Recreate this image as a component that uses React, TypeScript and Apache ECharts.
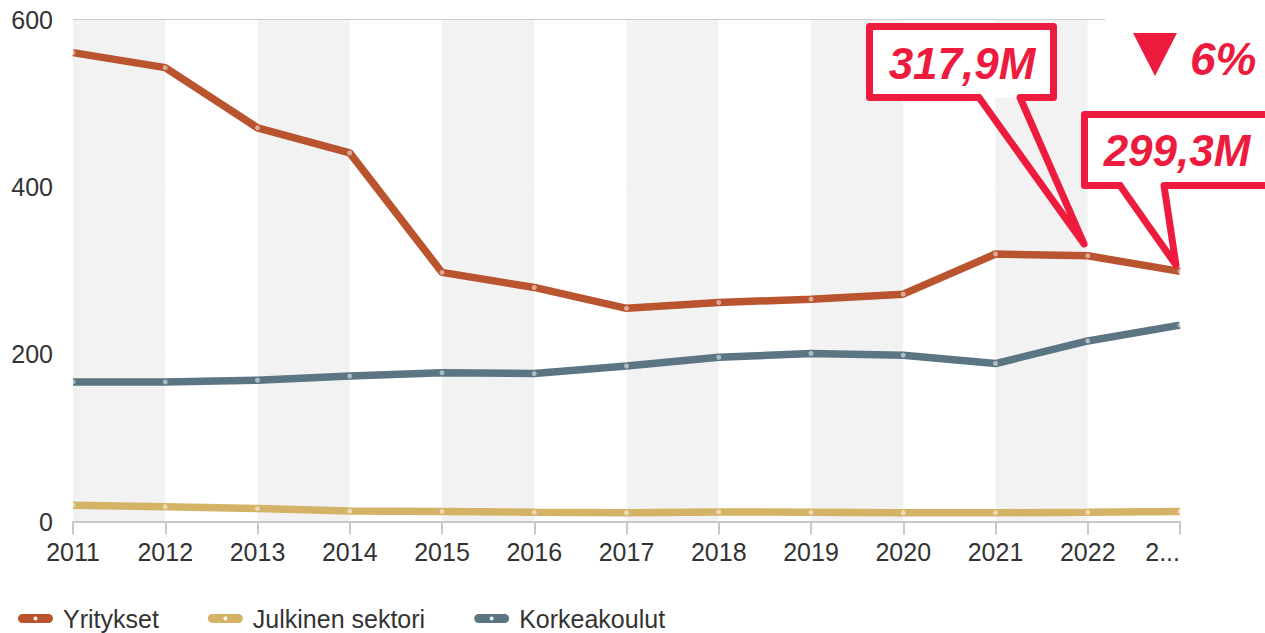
import React, { useEffect, useRef } from "react";
import * as echarts from "echarts";

const years = ["2011", "2012", "2013", "2014", "2015", "2016", "2017", "2018", "2019", "2020", "2021", "2022", "2023"];
const yritykset = [561, 543, 471, 441, 298, 280, 255, 262, 266, 272, 320, 317.9, 299.3];
const julkinen = [19.5, 17.5, 15.5, 12.5, 12, 11, 10.5, 11.5, 11, 10.5, 10.5, 11, 12];
const korkeakoulut = [167, 167, 169, 174, 178, 177, 186, 196.5, 201, 199, 189, 216, 235];
const seriesNames = ["Yritykset", "Julkinen sektori", "Korkeakoulut"];
const seriesColors = ["#b9542f", "#d4b366", "#5c7583"];
const callout1 = "317,9M";
const callout2 = "299,3M";
const changeText = "6%";

const RED = "#ed1b3e";
const FONT = "'Liberation Sans', Arial, sans-serif";
const LEGEND_ICON =
  "path://M4.5,0 L30.5,0 A4.5,4.5 0 0 1 30.5,9 L4.5,9 A4.5,4.5 0 0 1 4.5,0 Z M17.5,2.5 A2,2 0 0 0 17.5,6.5 A2,2 0 0 0 17.5,2.5 Z";

export default function App() {
  const ref = useRef<HTMLDivElement>(null);
  useEffect(() => {
    if (!ref.current) return;
    const chart = echarts.init(ref.current, undefined, { renderer: "svg" });
    const data = [yritykset, julkinen, korkeakoulut];
    chart.setOption({
      animation: false,
      backgroundColor: "#ffffff",
      textStyle: { fontFamily: FONT },
      grid: { left: 73, right: 85, top: 20, bottom: 111.5, containLabel: false },
      legend: {
        left: 18,
        top: 606,
        padding: 0,
        itemWidth: 35,
        itemHeight: 9,
        itemGap: 49,
        icon: LEGEND_ICON,
        textStyle: { fontSize: 25, lineHeight: 24, color: "#333333", fontFamily: FONT, padding: [0, 0, 0, 5] },
        data: seriesNames.map((name, i) => ({ name, itemStyle: { color: seriesColors[i] } })),
      },
      xAxis: {
        type: "category",
        data: years,
        boundaryGap: false,
        axisLine: { lineStyle: { color: "#c8c8c8", width: 2 } },
        axisTick: { show: true, length: 13, lineStyle: { color: "#c8c8c8", width: 2 } },
        axisLabel: {
          fontSize: 25,
          color: "#333333",
          margin: 18,
          interval: 0,
          alignMaxLabel: "right",
          formatter: (v: string, i: number) => (i === years.length - 1 ? "2..." : v),
        },
        splitLine: { show: false },
        splitArea: { show: true, areaStyle: { color: ["#f2f2f2", "#ffffff"] } },
      },
      yAxis: {
        type: "value",
        min: 0,
        max: 600,
        interval: 200,
        axisLine: { show: false },
        axisTick: { show: false },
        axisLabel: { fontSize: 25, color: "#333333", margin: 20 },
        splitLine: { lineStyle: { color: "#cccccc", width: 2 } },
      },
      series: seriesNames.map((name, i) => ({
        name,
        type: "line",
        data: data[i],
        symbol: "circle",
        symbolSize: 5,
        showSymbol: true,
        lineStyle: { color: seriesColors[i], width: 7.5 },
        itemStyle: { color: "rgba(255,255,255,0.5)", borderWidth: 0 },
        z: 3 + (2 - i),
      })),
      graphic: [
        { type: "rect", shape: { x: 1105, y: 12, width: 170, height: 16 }, style: { fill: "#ffffff" }, z: 50 },
        { type: "rect", shape: { x: 869.5, y: 26.5, width: 184, height: 71 }, style: { fill: "#ffffff" }, z: 60 },
        {
          type: "polyline",
          shape: {
            points: [
              [979, 97.5], [869.5, 97.5], [869.5, 26.5], [1053.5, 26.5], [1053.5, 97.5], [1020, 97.5], [1084, 244], [979, 97.5],
            ],
          },
          style: { stroke: RED, lineWidth: 7, fill: "none", lineJoin: "round", lineCap: "round" },
          z: 61,
        },
        {
          type: "text",
          x: 962,
          y: 63,
          style: { text: callout1, font: `italic bold 44px ${FONT}`, fill: RED, align: "center", verticalAlign: "middle", textAlign: "center", textVerticalAlign: "middle" },
          z: 62,
        },
        { type: "rect", shape: { x: 1084.5, y: 114.5, width: 200, height: 71 }, style: { fill: "#ffffff" }, z: 60 },
        {
          type: "polyline",
          shape: {
            points: [
              [1120, 185.5], [1084.5, 185.5], [1084.5, 114.5], [1290, 114.5],
            ],
          },
          style: { stroke: RED, lineWidth: 7, fill: "none", lineJoin: "round", lineCap: "round" },
          z: 61,
        },
        {
          type: "polyline",
          shape: {
            points: [
              [1290, 185.5], [1164, 185.5], [1176, 265], [1120, 185.5],
            ],
          },
          style: { stroke: RED, lineWidth: 7, fill: "none", lineJoin: "round", lineCap: "round" },
          z: 61,
        },
        {
          type: "text",
          x: 1177,
          y: 150,
          style: { text: callout2, font: `italic bold 44px ${FONT}`, fill: RED, align: "center", verticalAlign: "middle", textAlign: "center", textVerticalAlign: "middle" },
          z: 62,
        },
        {
          type: "polygon",
          shape: { points: [[1133, 33], [1177, 33], [1155, 76]] },
          style: { fill: RED },
          z: 62,
        },
        {
          type: "text",
          x: 1190,
          y: 59,
          style: { text: changeText, font: `italic bold 46px ${FONT}`, fill: RED, align: "left", verticalAlign: "middle", textAlign: "left", textVerticalAlign: "middle" },
          z: 62,
        },
      ],
    });
    return () => chart.dispose();
  }, []);
  return <div ref={ref} style={{ width: 1265, height: 633, position: "absolute", left: 0, top: 0 }} />;
}
